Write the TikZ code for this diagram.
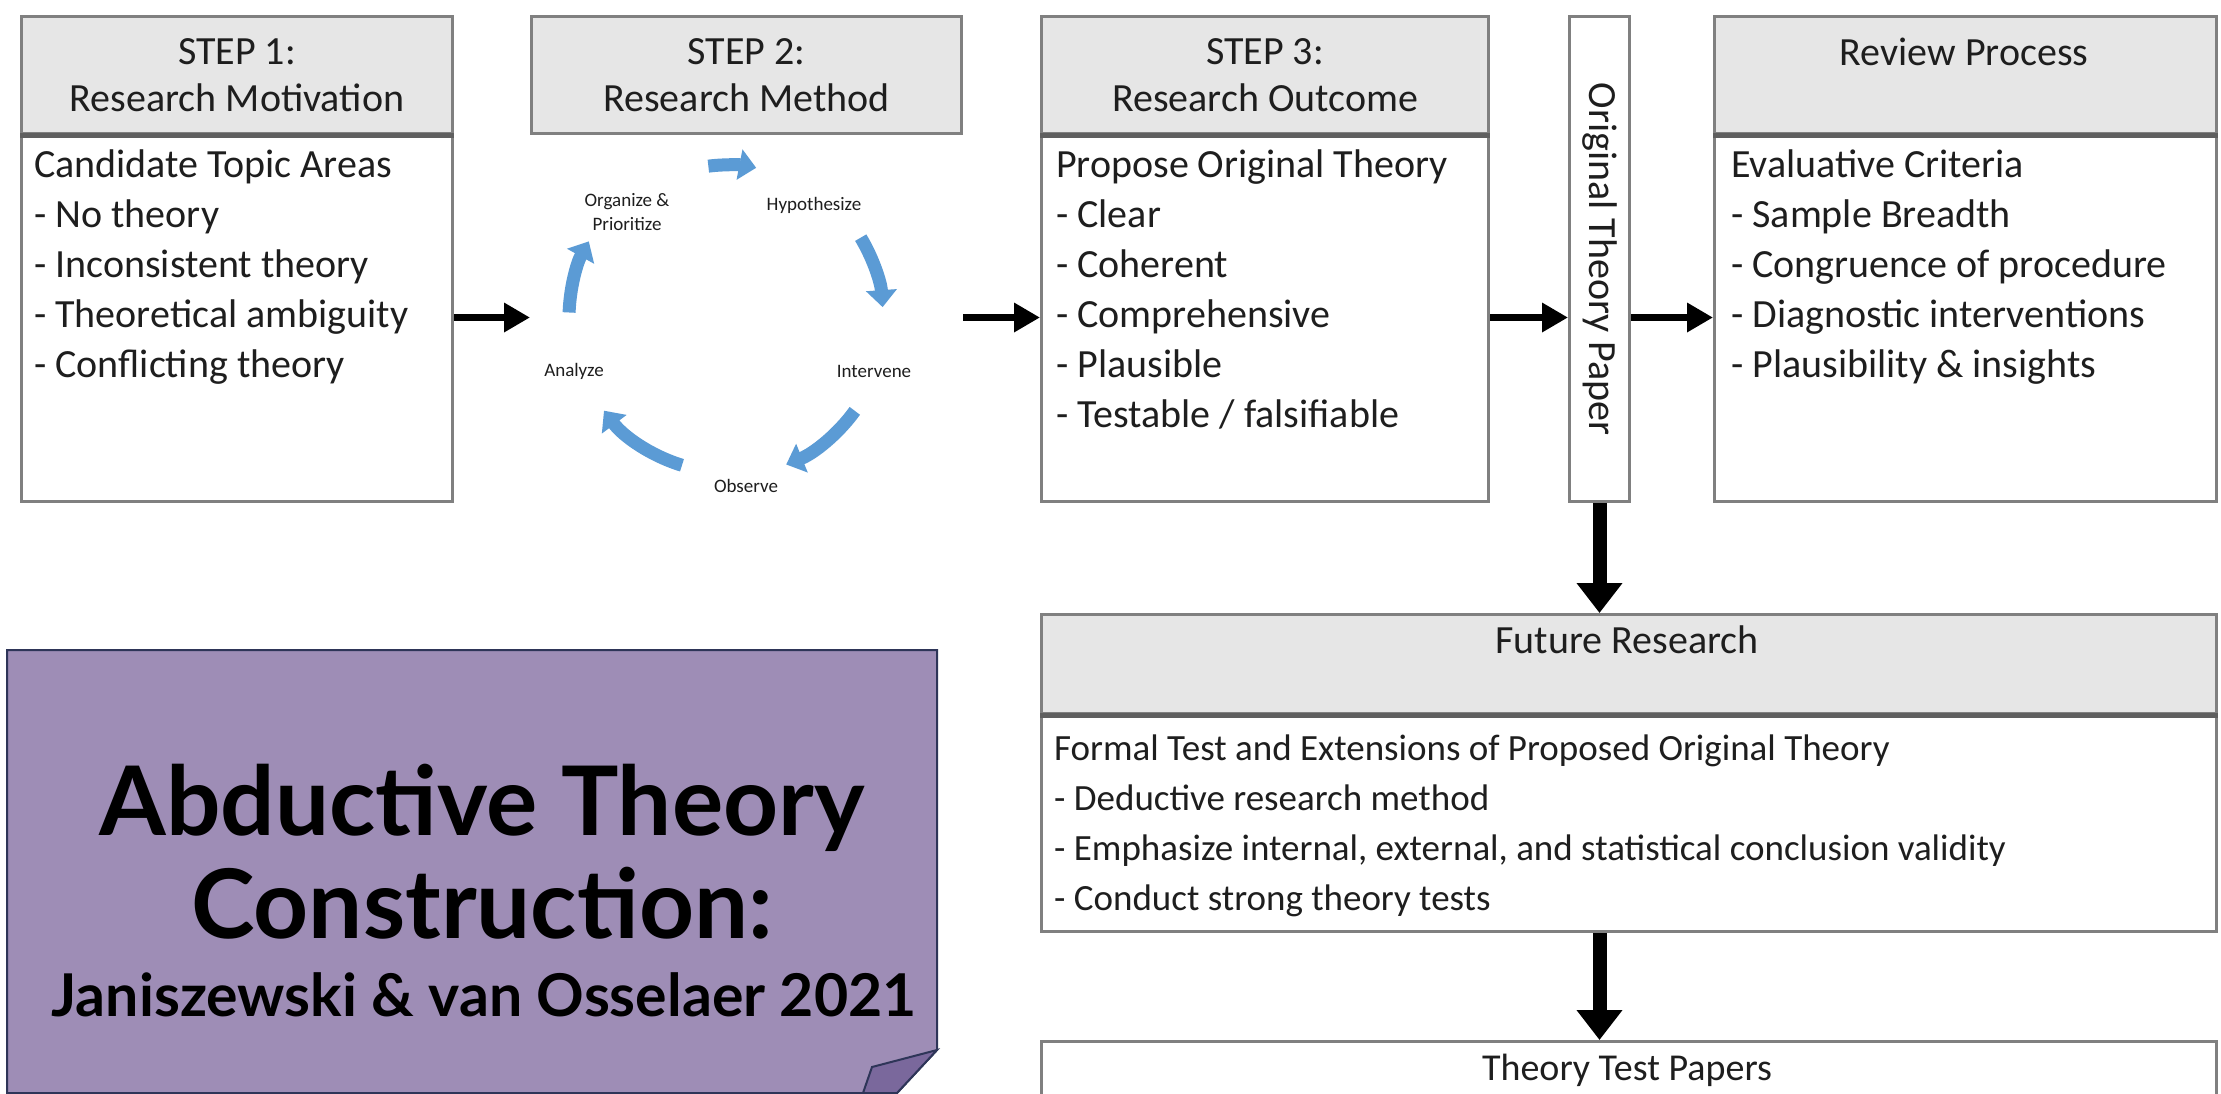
\documentclass[tikz,border=0pt]{standalone}
\usepackage{fontspec}
\setmainfont{Carlito}
\newfontfamily\titlefont{Lato}
\usetikzlibrary{arrows.meta,calc}
\definecolor{hdrfill}{HTML}{E6E6E6}
\definecolor{boxline}{HTML}{808080}
\definecolor{sepline}{HTML}{5F5F5F}
\definecolor{cycblue}{HTML}{5B9BD5}
\definecolor{purp}{HTML}{9E8DB6}
\definecolor{purpdark}{HTML}{7A689C}
\definecolor{navy}{HTML}{2E3558}
\definecolor{txt}{HTML}{1E1E1E}
\tikzset{
  hdr/.style={draw=boxline, line width=3pt, fill=hdrfill, anchor=north west, inner sep=0pt,
    align=center, text=txt, font=\fontsize{40}{47}\selectfont},
  bodybox/.style={draw=boxline, line width=3pt, fill=white, anchor=north west, inner sep=0pt},
  bodytext/.style={anchor=north west, inner sep=0pt, align=left, text=txt, font=\fontsize{40}{50}\selectfont},
  cyclabel/.style={inner sep=0pt, align=center, text=txt, font=\fontsize{19}{24}\selectfont},
  harrow/.style={line width=7pt, -{Triangle[length=26pt,width=28pt]}},
  varrow/.style={line width=14pt, -{Triangle[length=30pt,width=44pt]}},
  cycarrow/.style={draw=cycblue, line width=13pt, -{Triangle[length=17pt,width=30pt]}},
}
\begin{document}
\begin{tikzpicture}[x=1pt,y=-1pt]
\useasboundingbox (0,0) rectangle (2221,1093);
\fill[white] (0,0) rectangle (2221,1093);

% STEP 1
\node[hdr, minimum width=431pt, minimum height=117pt] (h1) at (20,15) {STEP 1:\\Research Motivation};
\node[bodybox, minimum width=431pt, minimum height=368pt] (b1) at (20,132) {};
\draw[sepline, line width=5pt] (h1.south west) -- (h1.south east);
\node[bodytext] (t1) at (34,150) {Candidate Topic Areas\\- No theory\\- Inconsistent theory\\- Theoretical ambiguity\\- Conflicting theory};

% STEP 2
\node[hdr, minimum width=430pt, minimum height=117pt] (h2) at (530,15) {STEP 2:\\Research Method};
\coordinate (cc) at (727,318);
\node[cyclabel] (org) at (627,212) {Organize \&\\Prioritize};
\node[cyclabel] (hyp) at (814,205) {Hypothesize};
\node[cyclabel] (int) at (874,371) {Intervene};
\node[cyclabel] (obs) at (746,486) {Observe};
\node[cyclabel] (ana) at (574,371) {Analyze};
\draw[cycarrow] ([shift={(-97:153)}]cc) arc[start angle=-97, end angle=-79, radius=153];
\draw[cycarrow] ([shift={(-31:156)}]cc) arc[start angle=-31, end angle=-4, radius=156];
\draw[cycarrow] ([shift={(36:158)}]cc) arc[start angle=36, end angle=68, radius=158];
\draw[cycarrow] ([shift={(107:154)}]cc) arc[start angle=107, end angle=143, radius=154];
\draw[cycarrow] ([shift={(182:158)}]cc) arc[start angle=182, end angle=209, radius=158];

% STEP 3
\node[hdr, minimum width=447pt, minimum height=117pt] (h3) at (1040,15) {STEP 3:\\Research Outcome};
\node[bodybox, minimum width=447pt, minimum height=368pt] (b3) at (1040,132) {};
\draw[sepline, line width=5pt] (h3.south west) -- (h3.south east);
\node[bodytext] (t3) at (1056,150) {Propose Original Theory\\- Clear\\- Coherent\\- Comprehensive\\- Plausible\\- Testable / falsifiable};

% Original Theory Paper
\node[draw=boxline, line width=3pt, fill=white, anchor=north west, minimum width=60pt, minimum height=485pt, inner sep=0pt] (otp) at (1568,15) {};
\node[rotate=-90, text=txt, font=\fontsize{40}{47}\selectfont, inner sep=0pt] (otpt) at (otp.center) {Original Theory Paper};

% Review
\node[hdr, minimum width=502pt, minimum height=117pt] (h4) at (1713,15) {};
\node[text=txt, font=\fontsize{40}{47}\selectfont, inner sep=0pt] (h4t) at (1964,52) {Review Process};
\node[bodybox, minimum width=502pt, minimum height=368pt] (b4) at (1713,132) {};
\draw[sepline, line width=5pt] (h4.south west) -- (h4.south east);
\node[bodytext] (t4) at (1731,150) {Evaluative Criteria\\- Sample Breadth\\- Congruence of procedure\\- Diagnostic interventions\\- Plausibility \& insights};

% Future research
\node[hdr, minimum width=1175pt, minimum height=99pt] (h5) at (1040,613) {};
\node[text=txt, font=\fontsize{40}{47}\selectfont, inner sep=0pt] (h5t) at (1627,640) {Future Research};
\node[bodybox, minimum width=1175pt, minimum height=218pt] (b5) at (1040,712) {};
\draw[sepline, line width=5pt] (h5.south west) -- (h5.south east);
\node[bodytext, font=\fontsize{37}{50}\selectfont] (t5) at (1054,735) {Formal Test and Extensions of Proposed Original Theory\\- Deductive research method\\- Emphasize internal, external, and statistical conclusion validity\\- Conduct strong theory tests};

% Theory test papers
\node[bodybox, minimum width=1175pt, minimum height=80pt] (b6) at (1040,1040) {};
\node[text=txt, font=\fontsize{38}{47}\selectfont, inner sep=0pt] (t6) at (1627,1070) {Theory Test Papers};

% connectors
\draw[harrow] (b1.east) -- (b1.east -| h2.west);
\draw[harrow] (h2.east |- b3.west) -- (b3.west);
\draw[harrow] (b3.east) -- (b3.east -| otp.west);
\draw[harrow] (otp.east |- b4.west) -- (b4.west);
\draw[varrow] (otp.south) -- (otp.south |- h5.north);
\draw[varrow] (otp.south |- b5.south) -- (otp.south |- b6.north);

% Purple note
\coordinate (pa) at (7,650);
\coordinate (pb) at (937,650);
\coordinate (pc) at (937,1050);
\coordinate (pd) at (897,1093);
\coordinate (pe) at (7,1093);
\filldraw[fill=purp, draw=navy, line width=2pt] (pa) -- (pb) -- (pc) -- (pd) -- (pe) -- cycle;
\coordinate (fa) at (872,1067);
\coordinate (fb) at (863,1093);
\filldraw[fill=purpdark, draw=navy, line width=2pt] (pc) -- (fa) -- (fb) -- (pd) -- cycle;
\node[font=\titlefont\bfseries\fontsize{96}{103}\selectfont, align=center, inner sep=0pt] (title) at (482,852) {Abductive Theory\\Construction:};
\node[font=\titlefont\bfseries\fontsize{59}{66}\selectfont, inner sep=0pt] (sub) at (484,995) {Janiszewski \& van Osselaer 2021};
\end{tikzpicture}
\end{document}
